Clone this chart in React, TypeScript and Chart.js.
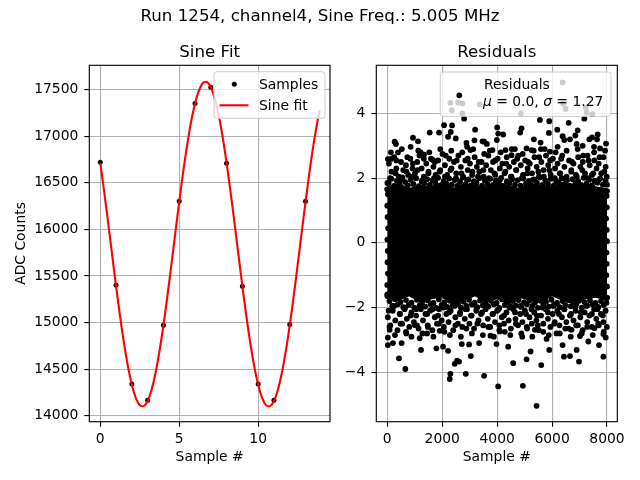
import React, { useEffect, useRef } from 'react';
import { Chart, registerables } from 'chart.js';

Chart.register(...registerables);

const FONT = "'DejaVu Sans', sans-serif";
const TICK_SIZE = 13.89;
const TITLE_SIZE = 16.67;

const suptitle = 'Run 1254, channel4, Sine Freq.: 5.005 MHz';
const leftTitle = 'Sine Fit';
const rightTitle = 'Residuals';
const xLabel = 'Sample #';
const yLabelLeft = 'ADC Counts';
const legendSamples = 'Samples';
const legendFit = 'Sine fit';
const legendResid = 'Residuals';
const legendStats: [string, boolean][] = [
  ['\u03bc', true],
  [' = 0.0, ', false],
  ['\u03c3', true],
  [' = 1.27', false],
];

// Left panel: samples and fitted sine
const sampleX = [0, 1, 2, 3, 4, 5, 6, 7, 8, 9, 10, 11, 12, 13];
const sampleY = [16720, 15400, 14340, 14165, 14970, 16300, 17350, 17525, 16710, 15390, 14340, 14165, 14980, 16300];

const fitX = [
  0, 0.25, 0.5, 0.75, 1, 1.25, 1.5, 1.75, 2, 2.25, 2.5, 2.75, 3, 3.25, 3.5, 3.75,
  4, 4.25, 4.5, 4.75, 5, 5.25, 5.5, 5.75, 6, 6.25, 6.5, 6.75, 7, 7.25, 7.5, 7.75,
  8, 8.25, 8.5, 8.75, 9, 9.25, 9.5, 9.75, 10, 10.25, 10.5, 10.75, 11, 11.25, 11.5, 11.75,
  12, 12.25, 12.5, 12.75, 13, 13.25, 13.5, 13.75, 13.9,
];
const fitY = [
  16714, 16402, 16069, 15728, 15391, 15071, 14781, 14532, 14333, 14192, 14114, 14103, 14158, 14279, 14459, 14693,
  14971, 15282, 15615, 15956, 16293, 16613, 16903, 17152, 17351, 17492, 17570, 17581, 17526, 17405, 17225, 16991,
  16714, 16402, 16069, 15728, 15391, 15071, 14781, 14532, 14333, 14192, 14114, 14103, 14158, 14279, 14459, 14693,
  14971, 15282, 15615, 15956, 16293, 16613, 16903, 17152, 17280,
];

const leftXTicks = [0, 5, 10];
const leftYTicks = [14000, 14500, 15000, 15500, 16000, 16500, 17000, 17500];

// Right panel: residuals
const rightXTicks = [0, 2000, 4000, 6000, 8000];
const rightYTicks = [-4, -2, 0, 2, 4];

// dense core of the residual cloud (upper / lower envelope)
const bandX = [0, 400, 800, 1200, 1600, 2000, 2400, 2800, 3200, 3600, 4000, 4400, 4800, 5200, 5600, 6000, 6400, 6800, 7200, 7600, 7999];
const bandHi = [1.65, 1.75, 1.6, 1.7, 1.65, 1.8, 1.6, 1.75, 1.7, 1.65, 1.8, 1.7, 1.6, 1.75, 1.7, 1.65, 1.8, 1.7, 1.75, 1.65, 1.6];
const bandLo = [-1.6, -1.7, -1.55, -1.75, -1.65, -1.6, -1.8, -1.7, -1.55, -1.75, -1.65, -1.8, -1.6, -1.7, -1.75, -1.55, -1.7, -1.8, -1.65, -1.6, -1.7];

const residualPoints: [number, number][] = [
  // upper outliers
  [6384, 4.96], [2298, 4.33], [2347, 4.1], [2578, 4.34], [2736, 4.31], [2736, 4.0], [2797, 3.84], [3368, 4.28],
  [4864, 4.0], [6408, 4.3], [6493, 4.14], [7223, 4.18], [7260, 4.03], [7467, 3.98], [7175, 3.84], [2067, 3.64],
  [1885, 3.41], [1544, 3.41], [2310, 3.43], [2213, 3.28], [2359, 3.63], [2493, 3.23], [3198, 3.5], [4001, 3.57],
  [4037, 3.38], [4220, 3.35], [3989, 3.18], [3830, 2.87], [4888, 3.54], [4840, 3.41], [5338, 3.2], [5557, 3.8],
  [5582, 3.1], [5898, 3.76], [5885, 3.4], [6189, 3.5], [6603, 3.71], [6384, 3.3], [6445, 3.18], [6931, 3.48],
  [6846, 3.32], [6895, 3.06], [7455, 3.26], [7661, 3.35], [7637, 3.2], [7965, 3.07], [268, 3.13], [316, 3.06],
  [389, 2.8], [146, 2.6], [20, 2.59], [851, 2.97], [936, 3.25], [1119, 3.14], [1216, 2.8], [1338, 2.73],
  [1666, 2.56], [3174, 3.17], [3526, 3.13], [3624, 3.06], [2906, 2.97], [2882, 3.09], [3028, 2.87], [3466, 3.14],
  [4305, 2.87], [4645, 2.9], [5071, 2.92], [5253, 2.87], [5922, 2.82], [6652, 3.2], [7114, 3.0], [7357, 3.2],
  [7527, 2.97], [7746, 2.92], [6202, 2.97], [5594, 2.9], [4523, 2.71],
  // lower outliers
  [5435, -5.04], [4937, -4.42], [4037, -4.44], [3526, -4.11], [2858, -4.05], [2298, -4.05], [2274, -4.21],
  [2456, -3.74], [2541, -3.64], [2614, -3.67], [657, -3.9], [426, -3.57], [20, -3.16], [20, -2.93], [207, -3.1],
  [523, -3.1], [693, -2.8], [1180, -2.95], [1228, -3.31], [1447, -2.8], [1788, -3.26], [2031, -3.21], [2213, -3.34],
  [2712, -3.13], [3040, -3.5], [2979, -3.14], [3344, -3.1], [3977, -3.13], [4402, -3.21], [4584, -3.72],
  [4913, -2.9], [5071, -3.6], [5217, -3.36], [5606, -3.78], [5898, -3.31], [5800, -2.97], [6384, -3.16],
  [6433, -3.52], [6652, -3.5], [6980, -3.67], [6895, -3.31], [7016, -2.88], [7320, -3.05], [7710, -3.16],
  [7868, -2.82], [7953, -2.93], [7868, -3.52], [7540, -2.64], [5374, -2.69], [3757, -2.87], [1909, -2.72],
  [997, -2.54], [85, -2.69], [4098, -2.74], [6165, -2.8], [6712, -2.69],
  // upper fringe
  [60, 2.45], [150, 2.2], [250, 2.65], [330, 2.3], [420, 2.05], [500, 2.5], [580, 2.25], [680, 2.4], [760, 2.1],
  [840, 2.6], [920, 2.3], [1010, 2.15], [1090, 2.5], [1170, 2.7], [1250, 2.3], [1330, 2.05], [1420, 2.45],
  [1500, 2.2], [1590, 2.6], [1680, 2.35], [1760, 2.1], [1850, 2.55], [1930, 2.25], [2010, 2.75], [2100, 2.4],
  [2180, 2.1], [2260, 2.6], [2340, 2.3], [2430, 2.5], [2510, 2.15], [2590, 2.7], [2680, 2.35], [2760, 2.05],
  [2840, 2.55], [2930, 2.25], [3010, 2.45], [3090, 2.1], [3180, 2.65], [3260, 2.35], [3350, 2.2], [3430, 2.5],
  [3510, 2.05], [3600, 2.4], [3680, 2.7], [3770, 2.25], [3850, 2.5], [3930, 2.1], [4020, 2.6], [4100, 2.3],
  [4190, 2.45], [4270, 2.15], [4350, 2.65], [4440, 2.35], [4520, 2.05], [4610, 2.5], [4690, 2.25], [4770, 2.7],
  [4860, 2.4], [4940, 2.1], [5020, 2.55], [5110, 2.3], [5190, 2.45], [5270, 2.15], [5360, 2.65], [5440, 2.35],
  [5520, 2.05], [5610, 2.5], [5690, 2.25], [5780, 2.7], [5860, 2.4], [5950, 2.1], [6030, 2.6], [6110, 2.3],
  [6200, 2.45], [6280, 2.15], [6370, 2.7], [6450, 2.35], [6530, 2.05], [6620, 2.55], [6700, 2.25], [6780, 2.45],
  [6870, 2.1], [6950, 2.65], [7030, 2.35], [7120, 2.5], [7200, 2.15], [7290, 2.7], [7370, 2.4], [7450, 2.1],
  [7540, 2.55], [7620, 2.3], [7700, 2.45], [7790, 2.15], [7870, 2.65], [7950, 2.35], [7990, 2.05],
  [100, 2.0], [300, 2.15], [500, 1.95], [700, 2.2], [900, 2.05], [1100, 2.25], [1300, 1.95], [1500, 2.15],
  [1700, 2.0], [1900, 2.2], [2100, 2.05], [2300, 2.25], [2500, 2.0], [2700, 2.15], [2900, 1.95], [3100, 2.2],
  [3300, 2.05], [3500, 2.25], [3700, 2.0], [3900, 2.15], [4100, 1.95], [4300, 2.2], [4500, 2.05], [4700, 2.25],
  [4900, 2.0], [5100, 2.15], [5300, 1.95], [5500, 2.2], [5700, 2.05], [5900, 2.25], [6100, 2.0], [6300, 2.15],
  [6500, 1.95], [6700, 2.2], [6900, 2.05], [7100, 2.25], [7300, 2.0], [7500, 2.15], [7700, 1.95], [7900, 2.2],
  [50, 1.85], [150, 1.98], [250, 1.76], [350, 1.92], [450, 1.8], [550, 2.02], [650, 1.88], [750, 1.78],
  [850, 1.95], [950, 1.82], [1050, 2.0], [1150, 1.75], [1250, 1.9], [1350, 1.84], [1450, 1.97], [1550, 1.79],
  [1650, 1.93], [1750, 1.86], [1850, 2.01], [1950, 1.77], [2050, 1.91], [2150, 1.83], [2250, 1.99], [2350, 1.8],
  [2450, 1.94], [2550, 1.76], [2650, 1.89], [2750, 2.02], [2850, 1.81], [2950, 1.96], [3050, 1.78], [3150, 1.9],
  [3250, 1.85], [3350, 2.0], [3450, 1.77], [3550, 1.93], [3650, 1.82], [3750, 1.98], [3850, 1.79], [3950, 1.92],
  [4050, 1.86], [4150, 2.01], [4250, 1.75], [4350, 1.9], [4450, 1.84], [4550, 1.97], [4650, 1.8], [4750, 1.94],
  [4850, 1.77], [4950, 1.99], [5050, 1.83], [5150, 1.91], [5250, 1.78], [5350, 1.96], [5450, 1.85], [5550, 2.02],
  [5650, 1.79], [5750, 1.93], [5850, 1.82], [5950, 1.98], [6050, 1.76], [6150, 1.9], [6250, 1.86], [6350, 2.0],
  [6450, 1.8], [6550, 1.94], [6650, 1.77], [6750, 1.97], [6850, 1.84], [6950, 1.91], [7050, 1.79], [7150, 2.01],
  [7250, 1.83], [7350, 1.95], [7450, 1.78], [7550, 1.92], [7650, 1.86], [7750, 1.99], [7850, 1.8], [7950, 1.93],
  [130, 2.8], [330, 2.55], [530, 2.9], [730, 2.65], [930, 2.45], [1130, 2.85], [1330, 2.6], [1530, 2.8],
  [1730, 2.5], [1930, 2.9], [2130, 2.7], [2330, 2.85], [2530, 2.55], [2730, 2.8], [2930, 2.6], [3130, 2.9],
  [3330, 2.5], [3530, 2.75], [3730, 2.85], [3930, 2.55], [4130, 2.8], [4330, 2.45], [4530, 2.9], [4730, 2.6],
  [4930, 2.75], [5130, 2.5], [5330, 2.85], [5530, 2.65], [5730, 2.9], [5930, 2.55], [6130, 2.8], [6330, 2.6],
  [6530, 2.85], [6730, 2.5], [6930, 2.9], [7130, 2.7], [7330, 2.55], [7530, 2.8], [7730, 2.65], [7930, 2.85],
  // lower fringe
  [20, -2.3], [110, -2.55], [200, -2.1], [290, -2.4], [370, -2.7], [460, -2.2], [540, -2.5], [630, -2.05],
  [710, -2.35], [800, -2.6], [880, -2.15], [970, -2.45], [1050, -2.25], [1140, -2.65], [1220, -2.05], [1300, -2.4],
  [1390, -2.2], [1470, -2.55], [1560, -2.1], [1640, -2.7], [1730, -2.3], [1810, -2.5], [1890, -2.05], [1980, -2.4],
  [2060, -2.6], [2150, -2.2], [2230, -2.45], [2310, -2.1], [2400, -2.7], [2480, -2.3], [2570, -2.5], [2650, -2.15],
  [2730, -2.6], [2820, -2.35], [2900, -2.05], [2990, -2.5], [3070, -2.25], [3160, -2.65], [3240, -2.1], [3320, -2.4],
  [3410, -2.2], [3490, -2.55], [3580, -2.05], [3660, -2.35], [3750, -2.6], [3830, -2.2], [3920, -2.45], [4000, -2.1],
  [4080, -2.7], [4170, -2.3], [4250, -2.5], [4340, -2.15], [4420, -2.4], [4500, -2.65], [4590, -2.05], [4670, -2.35],
  [4760, -2.55], [4840, -2.2], [4920, -2.45], [5010, -2.1], [5090, -2.65], [5180, -2.3], [5260, -2.5], [5350, -2.15],
  [5430, -2.4], [5520, -2.7], [5600, -2.25], [5680, -2.5], [5770, -2.05], [5850, -2.35], [5940, -2.6], [6020, -2.2],
  [6100, -2.45], [6190, -2.1], [6270, -2.55], [6360, -2.3], [6440, -2.05], [6520, -2.45], [6610, -2.65], [6690, -2.2],
  [6780, -2.4], [6860, -2.1], [6940, -2.55], [7030, -2.3], [7110, -2.7], [7190, -2.15], [7280, -2.45], [7360, -2.25],
  [7450, -2.6], [7530, -2.05], [7610, -2.35], [7700, -2.55], [7780, -2.2], [7870, -2.45], [7950, -2.1], [7995, -2.6],
  [50, -2.1], [250, -1.95], [450, -2.2], [650, -2.0], [850, -2.25], [1050, -2.05], [1250, -1.95], [1450, -2.2],
  [1650, -2.05], [1850, -2.25], [2050, -2.0], [2250, -2.15], [2450, -1.95], [2650, -2.2], [2850, -2.05], [3050, -2.25],
  [3250, -2.0], [3450, -2.15], [3650, -1.95], [3850, -2.2], [4050, -2.05], [4250, -2.25], [4450, -2.0], [4650, -2.15],
  [4850, -1.95], [5050, -2.2], [5250, -2.05], [5450, -2.25], [5650, -2.0], [5850, -2.15], [6050, -1.95], [6250, -2.2],
  [6450, -2.05], [6650, -2.25], [6850, -2.0], [7050, -2.15], [7250, -1.95], [7450, -2.2], [7650, -2.05], [7850, -2.25],
  [80, -1.8], [180, -1.95], [280, -1.74], [380, -1.9], [480, -1.83], [580, -1.99], [680, -1.77], [780, -1.92],
  [880, -1.85], [980, -2.0], [1080, -1.76], [1180, -1.93], [1280, -1.81], [1380, -1.97], [1480, -1.78], [1580, -1.9],
  [1680, -1.86], [1780, -2.01], [1880, -1.75], [1980, -1.92], [2080, -1.84], [2180, -1.98], [2280, -1.79], [2380, -1.94],
  [2480, -1.77], [2580, -1.89], [2680, -2.0], [2780, -1.82], [2880, -1.95], [2980, -1.76], [3080, -1.91], [3180, -1.85],
  [3280, -1.99], [3380, -1.78], [3480, -1.93], [3580, -1.81], [3680, -1.97], [3780, -1.79], [3880, -1.9], [3980, -1.86],
  [4080, -2.01], [4180, -1.75], [4280, -1.92], [4380, -1.83], [4480, -1.96], [4580, -1.8], [4680, -1.94], [4780, -1.77],
  [4880, -1.98], [4980, -1.84], [5080, -1.9], [5180, -1.78], [5280, -1.95], [5380, -1.85], [5480, -2.01], [5580, -1.79],
  [5680, -1.92], [5780, -1.82], [5880, -1.97], [5980, -1.76], [6080, -1.91], [6180, -1.86], [6280, -1.99], [6380, -1.8],
  [6480, -1.93], [6580, -1.77], [6680, -1.96], [6780, -1.84], [6880, -1.9], [6980, -1.79], [7080, -2.0], [7180, -1.83],
  [7280, -1.94], [7380, -1.78], [7480, -1.91], [7580, -1.86], [7680, -1.98], [7780, -1.8], [7880, -1.92], [7980, -1.85],
  [80, -2.6], [280, -2.85], [480, -2.5], [680, -2.75], [880, -2.9], [1080, -2.55], [1280, -2.8], [1480, -2.6],
  [1680, -2.9], [1880, -2.5], [2080, -2.75], [2280, -2.85], [2480, -2.55], [2680, -2.9], [2880, -2.65], [3080, -2.8],
  [3280, -2.5], [3480, -2.85], [3680, -2.6], [3880, -2.9], [4080, -2.55], [4280, -2.75], [4480, -2.85], [4680, -2.5],
  [4880, -2.8], [5080, -2.6], [5280, -2.9], [5480, -2.55], [5680, -2.75], [5880, -2.85], [6080, -2.5], [6280, -2.8],
  [6480, -2.65], [6680, -2.9], [6880, -2.55], [7080, -2.8], [7280, -2.6], [7480, -2.85], [7680, -2.5], [7880, -2.75],
  // left / right edges of the cloud
  [5, 1.85], [20, 1.5], [0, 1.15], [12, 0.8], [30, 0.45], [3, 0.1], [15, -0.25], [8, -0.6], [25, -0.95], [0, -1.3], [10, -1.65],
  [7999, 1.8], [7985, 1.45], [7995, 1.1], [7970, 0.75], [7990, 0.4], [7999, 0.05], [7980, -0.3], [7992, -0.65],
  [7975, -1.0], [7999, -1.35], [7988, -1.7],
];

const tickFont = { family: FONT, size: TICK_SIZE };
const gridOpts = {
  color: '#b0b0b0',
  lineWidth: 1.11,
  drawTicks: true,
  tickLength: 5,
  tickColor: '#000',
  tickWidth: 1.11,
};
const minus = (v: number) => (v < 0 ? '\u2212' + Math.abs(v) : String(v));

function boxPath(ctx: CanvasRenderingContext2D, x: number, y: number, w: number, h: number, r: number) {
  ctx.beginPath();
  ctx.moveTo(x + r, y);
  ctx.lineTo(x + w - r, y);
  ctx.arcTo(x + w, y, x + w, y + r, r);
  ctx.lineTo(x + w, y + h - r);
  ctx.arcTo(x + w, y + h, x + w - r, y + h, r);
  ctx.lineTo(x + r, y + h);
  ctx.arcTo(x, y + h, x, y + h - r, r);
  ctx.lineTo(x, y + r);
  ctx.arcTo(x, y, x + r, y, r);
  ctx.closePath();
}

function legendFrame(ctx: CanvasRenderingContext2D, x: number, y: number, w: number, h: number) {
  boxPath(ctx, x, y, w, h, 2.8);
  ctx.fillStyle = 'rgba(255,255,255,0.8)';
  ctx.fill();
  ctx.strokeStyle = '#cccccc';
  ctx.lineWidth = 1;
  ctx.stroke();
}

function decorPlugin(title: string, drawLegend: (ctx: CanvasRenderingContext2D, a: any) => void) {
  return {
    id: 'decor',
    afterDatasetsDraw(chart: any) {
      const { ctx, chartArea: a } = chart;
      ctx.save();
      ctx.strokeStyle = '#000';
      ctx.lineWidth = 1.11;
      ctx.strokeRect(a.left, a.top, a.right - a.left, a.bottom - a.top);
      drawLegend(ctx, a);
      ctx.fillStyle = '#000';
      ctx.font = `${TITLE_SIZE}px ${FONT}`;
      ctx.textAlign = 'center';
      ctx.textBaseline = 'alphabetic';
      ctx.fillText(title, (a.left + a.right) / 2, a.top - 8);
      ctx.restore();
    },
  };
}

function leftLegend(ctx: CanvasRenderingContext2D, a: any) {
  legendFrame(ctx, a.right - 116, a.top + 6.4, 111, 46.6);
  ctx.fillStyle = '#000';
  ctx.beginPath();
  ctx.arc(a.right - 95.7, a.top + 19, 2.5, 0, Math.PI * 2);
  ctx.fill();
  ctx.strokeStyle = '#ff0000';
  ctx.lineWidth = 2.1;
  ctx.beginPath();
  ctx.moveTo(a.right - 110.5, a.top + 40);
  ctx.lineTo(a.right - 81.5, a.top + 40);
  ctx.stroke();
  ctx.font = `${TICK_SIZE}px ${FONT}`;
  ctx.textAlign = 'left';
  ctx.textBaseline = 'alphabetic';
  ctx.fillStyle = '#000';
  ctx.fillText(legendSamples, a.right - 71, a.top + 24);
  ctx.fillText(legendFit, a.right - 71, a.top + 44.7);
}

function rightLegend(ctx: CanvasRenderingContext2D, a: any) {
  legendFrame(ctx, a.right - 177, a.top + 6.7, 170.7, 44.3);
  ctx.fillStyle = '#000';
  ctx.beginPath();
  ctx.arc(a.right - 158, a.top + 30, 2.9, 0, Math.PI * 2);
  ctx.fill();
  ctx.textAlign = 'left';
  ctx.textBaseline = 'alphabetic';
  ctx.font = `${TICK_SIZE}px ${FONT}`;
  ctx.fillText(legendResid, a.right - 133.3, a.top + 23.4);
  let x = a.right - 134.3;
  for (const [txt, italic] of legendStats) {
    ctx.font = `${italic ? 'italic ' : ''}${TICK_SIZE}px ${FONT}`;
    ctx.fillText(txt, x, a.top + 41.1);
    x += ctx.measureText(txt).width;
  }
}

function leftConfig(): any {
  return {
    type: 'scatter',
    data: {
      datasets: [
        {
          type: 'line',
          label: legendFit,
          data: fitX.map((x, i) => ({ x, y: fitY[i] })),
          borderColor: '#ff0000',
          borderWidth: 2.1,
          pointRadius: 0,
          tension: 0.3,
          fill: false,
          order: 0,
        },
        {
          type: 'scatter',
          label: legendSamples,
          data: sampleX.map((x, i) => ({ x, y: sampleY[i] })),
          pointBackgroundColor: '#000',
          pointBorderColor: '#000',
          pointBorderWidth: 0,
          pointRadius: 2.5,
          order: 1,
        },
      ],
    },
    options: {
      animation: false,
      responsive: false,
      events: [],
      layout: { padding: { left: 0, top: 65.3, right: 10, bottom: 0 } },
      plugins: { legend: { display: false }, tooltip: { enabled: false }, title: { display: false } },
      scales: {
        x: {
          type: 'linear',
          position: 'bottom',
          min: -0.695,
          max: 14.55,
          afterBuildTicks: (s: any) => { s.ticks = leftXTicks.map((v) => ({ value: v })); },
          afterFit: (s: any) => { s.height = 58.3; },
          grid: gridOpts,
          border: { display: false },
          ticks: { font: tickFont, color: '#000', padding: 4, maxRotation: 0, autoSkip: false, callback: (v: number) => minus(v) },
          title: { display: true, text: xLabel, color: '#000', font: tickFont, padding: { top: 0, bottom: 14.1 } },
        },
        y: {
          type: 'linear',
          position: 'left',
          min: 13936,
          max: 17760,
          afterBuildTicks: (s: any) => { s.ticks = leftYTicks.map((v) => ({ value: v })); },
          afterFit: (s: any) => { s.width = 89.3; },
          grid: gridOpts,
          border: { display: false },
          ticks: { font: tickFont, color: '#000', padding: 6, autoSkip: false, callback: (v: number) => minus(v) },
          title: { display: true, text: yLabelLeft, color: '#000', font: tickFont, padding: { top: 13.1, bottom: 0 } },
        },
      },
    },
    plugins: [decorPlugin(leftTitle, leftLegend)],
  };
}

function rightConfig(): any {
  return {
    type: 'scatter',
    data: {
      datasets: [
        {
          type: 'scatter',
          label: legendResid,
          data: residualPoints.map(([x, y]) => ({ x, y })),
          pointBackgroundColor: '#000',
          pointBorderColor: '#000',
          pointBorderWidth: 0,
          pointRadius: 2.9,
        },
        {
          type: 'line',
          label: 'core-upper',
          data: bandX.map((x, i) => ({ x, y: bandHi[i] })),
          borderColor: '#000',
          backgroundColor: '#000',
          borderWidth: 6,
          borderJoinStyle: 'round',
          borderCapStyle: 'round',
          pointRadius: 0,
          tension: 0,
          fill: '+1',
        },
        {
          type: 'line',
          label: 'core-lower',
          data: bandX.map((x, i) => ({ x, y: bandLo[i] })),
          borderColor: '#000',
          backgroundColor: '#000',
          borderWidth: 6,
          borderJoinStyle: 'round',
          borderCapStyle: 'round',
          pointRadius: 0,
          tension: 0,
          fill: false,
        },
      ],
    },
    options: {
      animation: false,
      responsive: false,
      events: [],
      layout: { padding: { left: 0, top: 65.3, right: 22.7, bottom: 0 } },
      plugins: { legend: { display: false }, tooltip: { enabled: false }, title: { display: false } },
      scales: {
        x: {
          type: 'linear',
          position: 'bottom',
          min: -400,
          max: 8375,
          afterBuildTicks: (s: any) => { s.ticks = rightXTicks.map((v) => ({ value: v })); },
          afterFit: (s: any) => { s.height = 58.3; },
          grid: gridOpts,
          border: { display: false },
          ticks: { font: tickFont, color: '#000', padding: 4, maxRotation: 0, autoSkip: false, callback: (v: number) => minus(v) },
          title: { display: true, text: xLabel, color: '#000', font: tickFont, padding: { top: 0, bottom: 14.1 } },
        },
        y: {
          type: 'linear',
          position: 'left',
          min: -5.53,
          max: 5.49,
          afterBuildTicks: (s: any) => { s.ticks = rightYTicks.map((v) => ({ value: v })); },
          afterFit: (s: any) => { s.width = 36.3; },
          grid: gridOpts,
          border: { display: false },
          ticks: { font: tickFont, color: '#000', padding: 6, autoSkip: false, callback: (v: number) => minus(v) },
        },
      },
    },
    plugins: [decorPlugin(rightTitle, rightLegend)],
  };
}

function ChartCanvas({ make, left, width }: { make: () => any; left: number; width: number }) {
  const ref = useRef<HTMLCanvasElement>(null);
  useEffect(() => {
    const chart = new Chart(ref.current as HTMLCanvasElement, make());
    return () => chart.destroy();
  }, []);
  return (
    <canvas
      ref={ref}
      width={width}
      height={480}
      style={{ position: 'absolute', left, top: 0, width, height: 480 }}
    />
  );
}

export default function App() {
  return (
    <div
      style={{
        position: 'fixed',
        left: 0,
        top: 0,
        width: 640,
        height: 480,
        background: '#fff',
        overflow: 'hidden',
      }}
    >
      <ChartCanvas make={leftConfig} left={0} width={340} />
      <ChartCanvas make={rightConfig} left={340} width={300} />
      <div
        style={{
          position: 'absolute',
          left: 0,
          top: 7.9,
          width: 640,
          textAlign: 'center',
          fontFamily: FONT,
          fontSize: TITLE_SIZE,
          lineHeight: `${TITLE_SIZE}px`,
          whiteSpace: 'nowrap',
          color: '#000',
        }}
      >
        {suptitle}
      </div>
    </div>
  );
}
